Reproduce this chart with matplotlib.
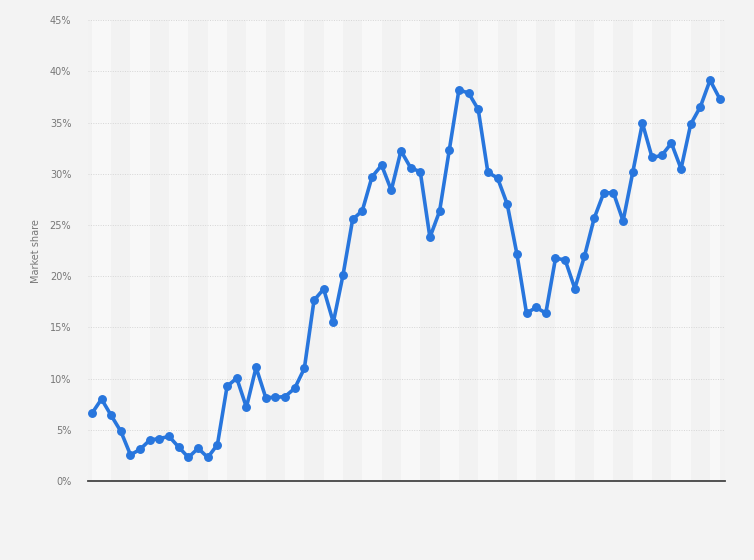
import matplotlib
matplotlib.use("Agg")
import matplotlib.pyplot as plt
import numpy as np

share = [6.6, 8.0, 6.4, 4.85, 2.55, 3.1, 4.0, 4.15, 4.35, 3.3, 2.3, 3.2, 2.3, 3.55,
         9.25, 10.05, 7.2, 11.1, 8.15, 8.17, 8.25, 9.05, 11.0, 17.65, 18.75, 15.5,
         20.1, 25.55, 26.4, 29.7, 30.85, 28.4, 32.25, 30.6, 30.2, 23.8, 26.35, 32.3,
         38.2, 37.9, 36.3, 30.15, 29.6, 27.05, 22.2, 16.4, 16.95, 16.4, 21.75, 21.6,
         18.8, 21.95, 25.65, 28.15, 28.15, 25.4, 30.15, 34.95, 31.6, 31.8, 33.0,
         30.5, 34.85, 36.55, 39.15, 37.35]
periods = list(range(len(share)))
y_ticks = [0, 5, 10, 15, 20, 25, 30, 35, 40, 45]
y_tick_labels = [f"{v}%" for v in y_ticks]
y_label = "Market share"

fig = plt.figure(figsize=(7.54, 5.6), dpi=100, facecolor="#f3f3f3")
ax = fig.add_axes([88/754, 1-481/560, (725-88)/754, (481-20.3)/560])
ax.set_facecolor("#f2f2f2")

n = len(periods)
for k in range(0, n, 4):
    ax.axvspan(periods[k], min(periods[k] + 2, periods[-1]), color="#f8f8f8", lw=0, zorder=0)

for v in y_ticks[1:]:
    ax.axhline(v, color="#d6d6d6", lw=0.7, ls=(0, (1, 1.5)), zorder=1)

ax.plot(periods, share, color="#2876dd", lw=2.6, marker="o", markersize=5.4,
        solid_joinstyle="round", zorder=3, clip_on=False)

ax.set_xlim(-0.4, 65.55)
ax.set_ylim(0, 45)
ax.set_yticks(y_ticks)
ax.set_yticklabels(y_tick_labels, fontsize=7, color="#777777")
ax.tick_params(axis="y", length=0, pad=12)
ax.set_xticks([])
for s in ["top", "right", "left"]:
    ax.spines[s].set_visible(False)
ax.spines["bottom"].set_color("#444444")
ax.spines["bottom"].set_linewidth(1.3)
ax.set_ylabel(y_label, fontsize=7, color="#777777", labelpad=6)

fig.savefig("out.png", dpi=100, facecolor=fig.get_facecolor())
